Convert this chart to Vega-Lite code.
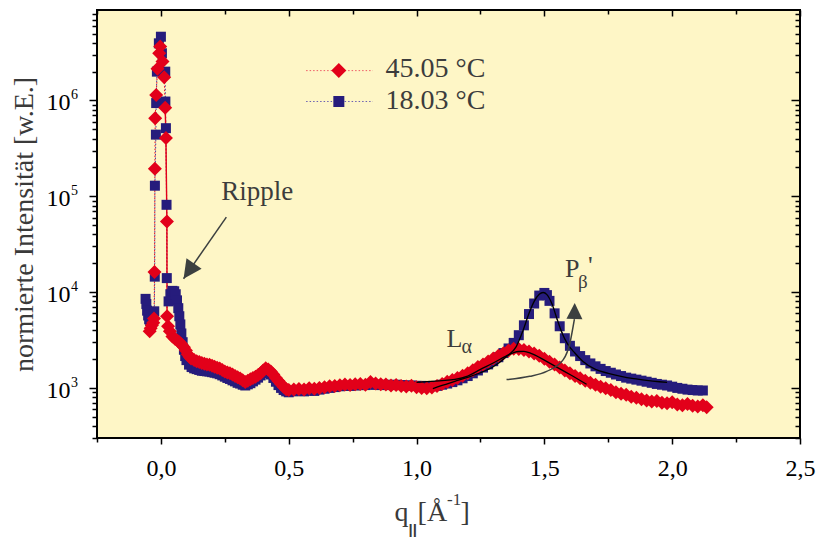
{
  "$schema": "https://vega.github.io/schema/vega-lite/v6.json",
  "width": 703,
  "height": 428,
  "autosize": {"type": "none"},
  "padding": {"left": 97, "top": 10, "right": 17, "bottom": 99},
  "background": "white",
  "config": {
    "view": {"fill": "#FEF6C6", "stroke": "#000000", "strokeWidth": 2},
    "font": "Liberation Serif"
  },
  "datasets": {
    "t45": [
      {"q": -0.044, "I": 3900}, {"q": -0.04, "I": 4200}, {"q": -0.035, "I": 4500}, {"q": -0.03, "I": 4800}, {"q": -0.027, "I": 5300},
      {"q": -0.025, "I": 16200}, {"q": -0.0235, "I": 194000}, {"q": -0.0223, "I": 653000}, {"q": -0.0184, "I": 1140000}, {"q": -0.0133, "I": 2140000},
      {"q": -0.0067, "I": 3110000}, {"q": -0.0027, "I": 3650000}, {"q": 0.0063, "I": 2550000}, {"q": 0.0129, "I": 1750000}, {"q": 0.0168, "I": 840000},
      {"q": 0.0196, "I": 405000}, {"q": 0.0235, "I": 54600}, {"q": 0.024, "I": 5600}, {"q": 0.028, "I": 4400}, {"q": 0.035, "I": 3900},
      {"q": 0.045, "I": 3450}, {"q": 0.055, "I": 3250}, {"q": 0.065, "I": 3100}, {"q": 0.072, "I": 3000}, {"q": 0.08, "I": 2850},
      {"q": 0.09, "I": 2650}, {"q": 0.098, "I": 2450}, {"q": 0.105, "I": 2250}, {"q": 0.112, "I": 2120}, {"q": 0.118, "I": 2030},
      {"q": 0.13, "I": 1950}, {"q": 0.14, "I": 1900}, {"q": 0.15, "I": 1860}, {"q": 0.16, "I": 1820}, {"q": 0.17, "I": 1790},
      {"q": 0.18, "I": 1760}, {"q": 0.19, "I": 1740}, {"q": 0.2, "I": 1700}, {"q": 0.21, "I": 1660}, {"q": 0.22, "I": 1620},
      {"q": 0.23, "I": 1590}, {"q": 0.24, "I": 1540}, {"q": 0.25, "I": 1480}, {"q": 0.26, "I": 1450}, {"q": 0.27, "I": 1420},
      {"q": 0.28, "I": 1380}, {"q": 0.29, "I": 1330}, {"q": 0.3, "I": 1290}, {"q": 0.31, "I": 1250}, {"q": 0.32, "I": 1200},
      {"q": 0.33, "I": 1150}, {"q": 0.34, "I": 1190}, {"q": 0.35, "I": 1230}, {"q": 0.36, "I": 1270}, {"q": 0.37, "I": 1310},
      {"q": 0.38, "I": 1360}, {"q": 0.39, "I": 1420}, {"q": 0.4, "I": 1520}, {"q": 0.41, "I": 1600}, {"q": 0.42, "I": 1560},
      {"q": 0.43, "I": 1480}, {"q": 0.44, "I": 1380}, {"q": 0.45, "I": 1270}, {"q": 0.46, "I": 1180}, {"q": 0.47, "I": 1100},
      {"q": 0.48, "I": 1030}, {"q": 0.49, "I": 970}, {"q": 0.5, "I": 950}, {"q": 0.52, "I": 965}, {"q": 0.54, "I": 975},
      {"q": 0.56, "I": 960}, {"q": 0.58, "I": 990}, {"q": 0.6, "I": 980}, {"q": 0.62, "I": 1000}, {"q": 0.64, "I": 1015},
      {"q": 0.66, "I": 1040}, {"q": 0.68, "I": 1050}, {"q": 0.7, "I": 1065}, {"q": 0.72, "I": 1085}, {"q": 0.74, "I": 1070},
      {"q": 0.76, "I": 1095}, {"q": 0.78, "I": 1100}, {"q": 0.8, "I": 1080}, {"q": 0.82, "I": 1150}, {"q": 0.84, "I": 1110},
      {"q": 0.86, "I": 1090}, {"q": 0.88, "I": 1085}, {"q": 0.9, "I": 1060}, {"q": 0.92, "I": 1075}, {"q": 0.94, "I": 1045},
      {"q": 0.96, "I": 1035}, {"q": 0.98, "I": 1055}, {"q": 1.0, "I": 1015}, {"q": 1.02, "I": 1000}, {"q": 1.04, "I": 990},
      {"q": 1.06, "I": 1010}, {"q": 1.08, "I": 1050}, {"q": 1.1, "I": 1100}, {"q": 1.12, "I": 1160}, {"q": 1.14, "I": 1210},
      {"q": 1.16, "I": 1270}, {"q": 1.18, "I": 1340}, {"q": 1.2, "I": 1420}, {"q": 1.22, "I": 1530}, {"q": 1.24, "I": 1650},
      {"q": 1.26, "I": 1760}, {"q": 1.28, "I": 1890}, {"q": 1.3, "I": 2030}, {"q": 1.32, "I": 2160}, {"q": 1.34, "I": 2300},
      {"q": 1.36, "I": 2450}, {"q": 1.38, "I": 2560}, {"q": 1.4, "I": 2540}, {"q": 1.42, "I": 2480}, {"q": 1.44, "I": 2400},
      {"q": 1.46, "I": 2290}, {"q": 1.48, "I": 2160}, {"q": 1.5, "I": 2020}, {"q": 1.52, "I": 1880}, {"q": 1.54, "I": 1760},
      {"q": 1.56, "I": 1630}, {"q": 1.58, "I": 1520}, {"q": 1.6, "I": 1420}, {"q": 1.62, "I": 1330}, {"q": 1.64, "I": 1260},
      {"q": 1.66, "I": 1190}, {"q": 1.68, "I": 1130}, {"q": 1.7, "I": 1080}, {"q": 1.72, "I": 1030}, {"q": 1.74, "I": 990},
      {"q": 1.76, "I": 950}, {"q": 1.78, "I": 900}, {"q": 1.8, "I": 870}, {"q": 1.82, "I": 850}, {"q": 1.84, "I": 810},
      {"q": 1.86, "I": 790}, {"q": 1.88, "I": 760}, {"q": 1.9, "I": 740}, {"q": 1.92, "I": 720}, {"q": 1.94, "I": 730},
      {"q": 1.96, "I": 700}, {"q": 1.98, "I": 690}, {"q": 2.0, "I": 710}, {"q": 2.02, "I": 670}, {"q": 2.04, "I": 660},
      {"q": 2.06, "I": 680}, {"q": 2.08, "I": 650}, {"q": 2.1, "I": 640}, {"q": 2.12, "I": 660}, {"q": 2.135, "I": 630}
    ],
    "t18": [
      {"q": -0.06, "I": 8500}, {"q": -0.057, "I": 7500}, {"q": -0.054, "I": 6400}, {"q": -0.05, "I": 5700}, {"q": -0.046, "I": 5200},
      {"q": -0.042, "I": 5000}, {"q": -0.036, "I": 5400}, {"q": -0.03, "I": 5900}, {"q": -0.026, "I": 6300}, {"q": -0.024, "I": 14500},
      {"q": -0.0235, "I": 129000}, {"q": -0.0196, "I": 440000}, {"q": -0.0185, "I": 940000}, {"q": -0.0157, "I": 2000000}, {"q": -0.008, "I": 3950000},
      {"q": 0.0, "I": 4630000}, {"q": 0.004, "I": 3110000}, {"q": 0.017, "I": 2000000}, {"q": 0.0175, "I": 975000}, {"q": 0.0196, "I": 514000},
      {"q": 0.022, "I": 81500}, {"q": 0.023, "I": 14000}, {"q": 0.03, "I": 8000}, {"q": 0.037, "I": 9500}, {"q": 0.045, "I": 10300},
      {"q": 0.052, "I": 10200}, {"q": 0.058, "I": 9500}, {"q": 0.063, "I": 8200}, {"q": 0.068, "I": 6800}, {"q": 0.072, "I": 5600},
      {"q": 0.076, "I": 4600}, {"q": 0.08, "I": 3700}, {"q": 0.085, "I": 3000}, {"q": 0.09, "I": 2500}, {"q": 0.095, "I": 2150},
      {"q": 0.1, "I": 1950}, {"q": 0.11, "I": 1750}, {"q": 0.12, "I": 1650}, {"q": 0.13, "I": 1600}, {"q": 0.14, "I": 1570},
      {"q": 0.15, "I": 1540}, {"q": 0.16, "I": 1510}, {"q": 0.17, "I": 1500}, {"q": 0.18, "I": 1490}, {"q": 0.19, "I": 1480},
      {"q": 0.2, "I": 1460}, {"q": 0.21, "I": 1440}, {"q": 0.22, "I": 1420}, {"q": 0.23, "I": 1390}, {"q": 0.24, "I": 1350},
      {"q": 0.25, "I": 1310}, {"q": 0.26, "I": 1270}, {"q": 0.27, "I": 1240}, {"q": 0.28, "I": 1200}, {"q": 0.29, "I": 1170},
      {"q": 0.3, "I": 1130}, {"q": 0.31, "I": 1110}, {"q": 0.32, "I": 1080}, {"q": 0.33, "I": 1060}, {"q": 0.34, "I": 1090},
      {"q": 0.35, "I": 1120}, {"q": 0.36, "I": 1170}, {"q": 0.37, "I": 1220}, {"q": 0.38, "I": 1280}, {"q": 0.39, "I": 1350},
      {"q": 0.4, "I": 1430}, {"q": 0.41, "I": 1470}, {"q": 0.42, "I": 1450}, {"q": 0.43, "I": 1380}, {"q": 0.44, "I": 1270},
      {"q": 0.45, "I": 1160}, {"q": 0.46, "I": 1070}, {"q": 0.47, "I": 1000}, {"q": 0.48, "I": 950}, {"q": 0.49, "I": 920},
      {"q": 0.5, "I": 900}, {"q": 0.52, "I": 920}, {"q": 0.54, "I": 930}, {"q": 0.56, "I": 920}, {"q": 0.58, "I": 940},
      {"q": 0.6, "I": 930}, {"q": 0.62, "I": 960}, {"q": 0.64, "I": 980}, {"q": 0.66, "I": 1000}, {"q": 0.68, "I": 1020},
      {"q": 0.7, "I": 1040}, {"q": 0.72, "I": 1050}, {"q": 0.74, "I": 1050}, {"q": 0.76, "I": 1060}, {"q": 0.78, "I": 1070},
      {"q": 0.8, "I": 1070}, {"q": 0.82, "I": 1080}, {"q": 0.84, "I": 1080}, {"q": 0.86, "I": 1070}, {"q": 0.88, "I": 1080},
      {"q": 0.9, "I": 1070}, {"q": 0.92, "I": 1080}, {"q": 0.94, "I": 1070}, {"q": 0.96, "I": 1060}, {"q": 0.98, "I": 1060},
      {"q": 1.0, "I": 1050}, {"q": 1.02, "I": 1050}, {"q": 1.04, "I": 1040}, {"q": 1.06, "I": 1040}, {"q": 1.08, "I": 1050},
      {"q": 1.1, "I": 1080}, {"q": 1.12, "I": 1110}, {"q": 1.14, "I": 1150}, {"q": 1.16, "I": 1200}, {"q": 1.18, "I": 1260},
      {"q": 1.2, "I": 1330}, {"q": 1.22, "I": 1420}, {"q": 1.24, "I": 1520}, {"q": 1.26, "I": 1630}, {"q": 1.28, "I": 1760},
      {"q": 1.3, "I": 1900}, {"q": 1.32, "I": 2090}, {"q": 1.34, "I": 2310}, {"q": 1.36, "I": 2580}, {"q": 1.38, "I": 2950},
      {"q": 1.4, "I": 3550}, {"q": 1.42, "I": 4500}, {"q": 1.44, "I": 5900}, {"q": 1.46, "I": 7600}, {"q": 1.48, "I": 9200},
      {"q": 1.5, "I": 9800}, {"q": 1.51, "I": 9300}, {"q": 1.52, "I": 8100}, {"q": 1.54, "I": 6000}, {"q": 1.56, "I": 4400},
      {"q": 1.58, "I": 3300}, {"q": 1.6, "I": 2750}, {"q": 1.62, "I": 2400}, {"q": 1.64, "I": 2150}, {"q": 1.66, "I": 1950},
      {"q": 1.68, "I": 1800}, {"q": 1.7, "I": 1680}, {"q": 1.72, "I": 1580}, {"q": 1.74, "I": 1500}, {"q": 1.76, "I": 1440},
      {"q": 1.78, "I": 1380}, {"q": 1.8, "I": 1330}, {"q": 1.82, "I": 1280}, {"q": 1.84, "I": 1250}, {"q": 1.86, "I": 1220},
      {"q": 1.88, "I": 1190}, {"q": 1.9, "I": 1160}, {"q": 1.92, "I": 1130}, {"q": 1.94, "I": 1100}, {"q": 1.96, "I": 1080},
      {"q": 1.98, "I": 1060}, {"q": 2.0, "I": 1030}, {"q": 2.02, "I": 1000}, {"q": 2.04, "I": 980}, {"q": 2.06, "I": 960},
      {"q": 2.08, "I": 950}, {"q": 2.1, "I": 940}, {"q": 2.12, "I": 940}
    ],
    "fitLa": [
      {"q": 1.0, "I": 1140}, {"q": 1.05, "I": 1170}, {"q": 1.1, "I": 1190}, {"q": 1.15, "I": 1225}, {"q": 1.2, "I": 1330},
      {"q": 1.25, "I": 1560}, {"q": 1.3, "I": 1820}, {"q": 1.35, "I": 2150}, {"q": 1.38, "I": 2340}, {"q": 1.4, "I": 2400},
      {"q": 1.42, "I": 2410}, {"q": 1.45, "I": 2280}, {"q": 1.5, "I": 1950}, {"q": 1.55, "I": 1640}, {"q": 1.6, "I": 1380},
      {"q": 1.665, "I": 1090}
    ],
    "fitPb": [
      {"q": 1.064, "I": 980}, {"q": 1.1, "I": 1060}, {"q": 1.15, "I": 1170}, {"q": 1.2, "I": 1290}, {"q": 1.25, "I": 1440},
      {"q": 1.3, "I": 1660}, {"q": 1.35, "I": 2100}, {"q": 1.39, "I": 2700}, {"q": 1.417, "I": 4000}, {"q": 1.44, "I": 6000},
      {"q": 1.46, "I": 8000}, {"q": 1.48, "I": 9500}, {"q": 1.495, "I": 9900}, {"q": 1.51, "I": 9400}, {"q": 1.53, "I": 7500},
      {"q": 1.55, "I": 5200}, {"q": 1.57, "I": 3700}, {"q": 1.59, "I": 2900}, {"q": 1.62, "I": 2300}, {"q": 1.65, "I": 1900},
      {"q": 1.7, "I": 1560}, {"q": 1.75, "I": 1420}, {"q": 1.8, "I": 1320}, {"q": 1.85, "I": 1250}, {"q": 1.9, "I": 1200},
      {"q": 1.95, "I": 1160}, {"q": 1.98, "I": 1140}
    ],
    "rippleArrow": [{"q": 0.256, "I": 60700}, {"q": 0.0886, "I": 13800}],
    "rippleTip": [{"q": 0.0886, "I": 13800}],
    "pbArrow": [
      {"q": 1.352, "I": 1221}, {"q": 1.443, "I": 1321}, {"q": 1.509, "I": 1489}, {"q": 1.574, "I": 1972},
      {"q": 1.6, "I": 2944}, {"q": 1.6175, "I": 5212}
    ],
    "pbTip": [{"q": 1.6187, "I": 7696}],
    "decades": [
      {"q": -0.25, "I": 1000, "e": "3"}, {"q": -0.25, "I": 10000, "e": "4"}, {"q": -0.25, "I": 100000, "e": "5"}, {"q": -0.25, "I": 1000000, "e": "6"}
    ],
    "keyRed": [{"q": 0.568, "I": 2050000}, {"q": 0.829, "I": 2050000}],
    "keyBlue": [{"q": 0.568, "I": 976000}, {"q": 0.829, "I": 976000}],
    "keyRedMark": [{"q": 0.696, "I": 2050000}],
    "keyBlueMark": [{"q": 0.696, "I": 976000}],
    "keyText": [{"q": 0.8785, "I": 1774000, "t": "45.05 °C"}, {"q": 0.8785, "I": 817000, "t": "18.03 °C"}],
    "ripple": [{"q": 0.2363, "I": 91930, "t": "Ripple"}],
    "bigLetters": [{"q": 1.1168, "I": 2696, "t": "L"}, {"q": 1.5803, "I": 14477, "t": "P"}, {"q": 1.6705, "I": 15560, "t": "'"}],
    "alpha": [{"q": 1.1756, "I": 2334, "t": "α"}],
    "beta": [{"q": 1.6315, "I": 11120, "t": "β"}],
    "xTitle": [{"q": 0.914, "I": 300}]
  },
  "encoding": {
    "x": {"field": "q", "type": "quantitative", "scale": {"domain": [-0.25, 2.5], "nice": false, "zero": false}, "axis": null},
    "y": {"field": "I", "type": "quantitative", "scale": {"type": "log", "domain": [300, 8800000], "nice": false}, "axis": null}
  },
  "layer": [
    {
      "data": {"name": "t18"},
      "mark": {"type": "line", "color": "#4B3F9E", "strokeWidth": 1, "strokeDash": [1.5, 2]},
      "encoding": {
        "x": {
          "field": "q", "type": "quantitative",
          "axis": {
            "orient": "bottom",
            "values": [-0.25, 0, 0.25, 0.5, 0.75, 1, 1.25, 1.5, 1.75, 2, 2.25, 2.5],
            "labelExpr": "(datum.value % 0.5 == 0) ? replace(format(datum.value, '.1f'), '.', ',') : ''",
            "domain": false, "grid": false,
            "tickColor": "#000000", "tickWidth": 1.5,
            "tickSize": {"condition": {"test": "datum.value % 0.5 == 0", "value": 6}, "value": 4},
            "labelFont": "Liberation Serif", "labelFontSize": 24, "labelColor": "#000000",
            "labelPadding": 12, "labelFlush": false, "labelOverlap": false, "title": null
          }
        },
        "y": {
          "field": "I", "type": "quantitative",
          "axis": {
            "orient": "left",
            "values": [300, 400, 500, 600, 700, 800, 900, 1000, 2000, 3000, 4000, 5000, 6000, 7000, 8000, 9000, 10000, 20000, 30000, 40000, 50000, 60000, 70000, 80000, 90000, 100000, 200000, 300000, 400000, 500000, 600000, 700000, 800000, 900000, 1000000, 2000000, 3000000, 4000000, 5000000, 6000000, 7000000, 8000000],
            "labels": false, "domain": false, "grid": false,
            "tickColor": "#000000", "tickWidth": 1.5,
            "tickSize": {"condition": {"test": "datum.value == 1000 || datum.value == 10000 || datum.value == 100000 || datum.value == 1000000", "value": 8}, "value": 5},
            "title": "normierte Intensität [w.E.]",
            "titleFont": "Liberation Serif", "titleFontSize": 28, "titleFontWeight": "normal",
            "titleColor": "#3A3A3A", "titlePadding": 50
          }
        }
      }
    },
    {
      "data": {"name": "t45"},
      "mark": {"type": "line", "color": "#E2001A", "strokeWidth": 1, "strokeDash": [1.5, 2]},
      "encoding": {
        "x": {
          "field": "q", "type": "quantitative",
          "axis": {
            "orient": "top",
            "values": [-0.25, 0, 0.25, 0.5, 0.75, 1, 1.25, 1.5, 1.75, 2, 2.25, 2.5],
            "labels": false, "domain": false, "grid": false,
            "tickColor": "#000000", "tickWidth": 1.5,
            "tickSize": {"condition": {"test": "datum.value % 0.5 == 0", "value": -6}, "value": -4},
            "title": null
          }
        },
        "y": {
          "field": "I", "type": "quantitative",
          "axis": {
            "orient": "right",
            "values": [300, 400, 500, 600, 700, 800, 900, 1000, 2000, 3000, 4000, 5000, 6000, 7000, 8000, 9000, 10000, 20000, 30000, 40000, 50000, 60000, 70000, 80000, 90000, 100000, 200000, 300000, 400000, 500000, 600000, 700000, 800000, 900000, 1000000, 2000000, 3000000, 4000000, 5000000, 6000000, 7000000, 8000000],
            "labels": false, "domain": false, "grid": false,
            "tickColor": "#000000", "tickWidth": 1.5,
            "tickSize": {"condition": {"test": "datum.value == 1000 || datum.value == 10000 || datum.value == 100000 || datum.value == 1000000", "value": -9}, "value": -5},
            "title": null
          }
        }
      }
    },
    {
      "data": {"name": "t45"},
      "transform": [{"filter": "datum.q >= 0.0168 && datum.q <= 0.024"}],
      "mark": {"type": "line", "color": "#E2001A", "strokeWidth": 1.4}
    },
    {
      "data": {"name": "t18"},
      "mark": {"type": "point", "shape": "square", "filled": true, "size": 100, "color": "#261C7C", "opacity": 1}
    },
    {
      "data": {"name": "t45"},
      "mark": {"type": "point", "shape": "diamond", "filled": true, "size": 196, "color": "#E2001A", "opacity": 1}
    },
    {
      "data": {"name": "fitLa"},
      "mark": {"type": "line", "color": "#000000", "strokeWidth": 1.3, "interpolate": "monotone"}
    },
    {
      "data": {"name": "fitPb"},
      "mark": {"type": "line", "color": "#000000", "strokeWidth": 1.3, "interpolate": "monotone"}
    },
    {
      "data": {"name": "rippleArrow"},
      "mark": {"type": "line", "color": "#3C4040", "strokeWidth": 1.5}
    },
    {
      "data": {"name": "rippleTip"},
      "mark": {"type": "point", "shape": "M0,0L0.5,1L-0.5,1Z", "filled": true, "size": 1354, "angle": 214.7, "color": "#3C4040", "opacity": 1}
    },
    {
      "data": {"name": "pbArrow"},
      "mark": {"type": "line", "color": "#3C4040", "strokeWidth": 1.5, "interpolate": "monotone"}
    },
    {
      "data": {"name": "pbTip"},
      "mark": {"type": "point", "shape": "M0,0L0.5,1L-0.5,1Z", "filled": true, "size": 1024, "angle": 1, "color": "#3C4040", "opacity": 1}
    },
    {
      "data": {"name": "ripple"},
      "mark": {"type": "text", "font": "Liberation Serif", "fontSize": 27, "align": "left", "baseline": "alphabetic", "color": "#3C3C3C"},
      "encoding": {"text": {"field": "t", "type": "nominal"}}
    },
    {
      "data": {"name": "bigLetters"},
      "mark": {"type": "text", "font": "Liberation Serif", "fontSize": 26, "align": "left", "baseline": "alphabetic", "color": "#3C3C3C"},
      "encoding": {"text": {"field": "t", "type": "nominal"}}
    },
    {
      "data": {"name": "alpha"},
      "mark": {"type": "text", "font": "Liberation Serif", "fontSize": 20, "align": "left", "baseline": "alphabetic", "color": "#3C3C3C"},
      "encoding": {"text": {"field": "t", "type": "nominal"}}
    },
    {
      "data": {"name": "beta"},
      "mark": {"type": "text", "font": "Liberation Serif", "fontSize": 19, "align": "left", "baseline": "alphabetic", "color": "#3C3C3C"},
      "encoding": {"text": {"field": "t", "type": "nominal"}}
    },
    {
      "data": {"name": "keyRed"},
      "mark": {"type": "line", "color": "#EE5A66", "strokeWidth": 1, "strokeDash": [1.5, 2]}
    },
    {
      "data": {"name": "keyBlue"},
      "mark": {"type": "line", "color": "#6A5FB2", "strokeWidth": 1, "strokeDash": [1.5, 2]}
    },
    {
      "data": {"name": "keyRedMark"},
      "mark": {"type": "point", "shape": "diamond", "filled": true, "size": 225, "color": "#E2001A", "opacity": 1}
    },
    {
      "data": {"name": "keyBlueMark"},
      "mark": {"type": "point", "shape": "square", "filled": true, "size": 121, "color": "#261C7C", "opacity": 1}
    },
    {
      "data": {"name": "keyText"},
      "mark": {"type": "text", "font": "Liberation Serif", "fontSize": 28, "align": "left", "baseline": "alphabetic", "color": "#3C3C3C"},
      "encoding": {"text": {"field": "t", "type": "nominal"}}
    },
    {
      "data": {"name": "decades"},
      "mark": {"type": "text", "text": "10", "font": "Liberation Serif", "fontSize": 24, "align": "right", "baseline": "alphabetic", "dx": -26.5, "dy": 10, "color": "#000000"}
    },
    {
      "data": {"name": "decades"},
      "mark": {"type": "text", "font": "Liberation Serif", "fontSize": 14, "align": "left", "baseline": "alphabetic", "dx": -26, "dy": -1, "color": "#000000"},
      "encoding": {"text": {"field": "e", "type": "nominal"}}
    },
    {
      "data": {"name": "xTitle"},
      "mark": {"type": "text", "text": "q", "font": "Liberation Serif", "fontSize": 28, "align": "left", "baseline": "alphabetic", "dy": 83, "color": "#3A3A3A"}
    },
    {
      "data": {"name": "xTitle"},
      "mark": {"type": "text", "text": "||", "font": "Liberation Sans", "fontSize": 15, "fontWeight": "bold", "align": "left", "baseline": "alphabetic", "dx": 14, "dy": 97, "color": "#3A3A3A"}
    },
    {
      "data": {"name": "xTitle"},
      "mark": {"type": "text", "text": "[Å", "font": "Liberation Serif", "fontSize": 28, "align": "left", "baseline": "alphabetic", "dx": 23, "dy": 83, "color": "#3A3A3A"}
    },
    {
      "data": {"name": "xTitle"},
      "mark": {"type": "text", "text": "-1", "font": "Liberation Serif", "fontSize": 17, "align": "left", "baseline": "alphabetic", "dx": 52.5, "dy": 67, "color": "#3A3A3A"}
    },
    {
      "data": {"name": "xTitle"},
      "mark": {"type": "text", "text": "]", "font": "Liberation Serif", "fontSize": 28, "align": "left", "baseline": "alphabetic", "dx": 66, "dy": 83, "color": "#3A3A3A"}
    }
  ],
  "resolve": {"axis": {"x": "independent", "y": "independent"}}
}
